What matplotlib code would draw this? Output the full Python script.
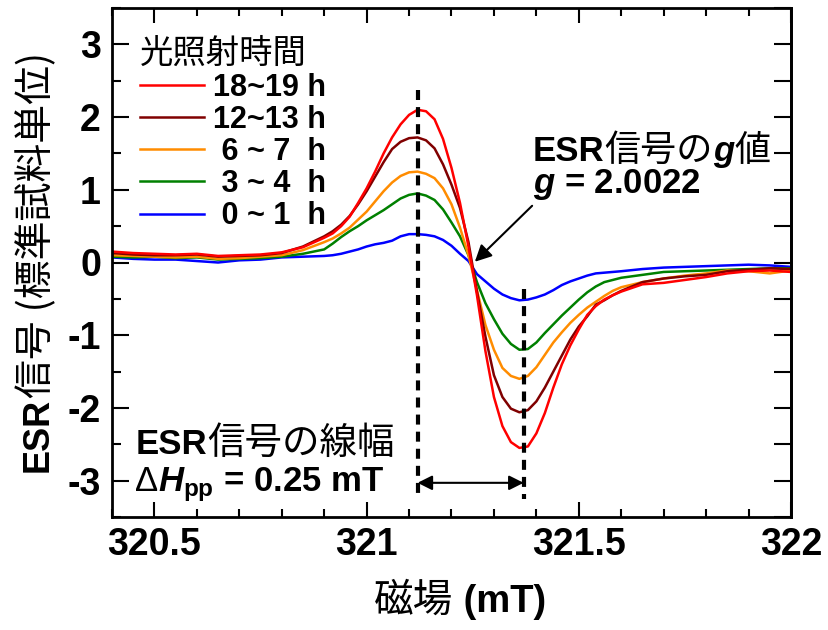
import matplotlib
matplotlib.use('Agg')
import matplotlib.pyplot as plt
import matplotlib.transforms as mtransforms
import numpy as np

plt.rcParams['axes.unicode_minus'] = False
plt.rcParams['mathtext.fontset'] = 'custom'
plt.rcParams['mathtext.rm'] = 'Liberation Sans:bold'
plt.rcParams['mathtext.it'] = 'Liberation Sans:italic:bold'
plt.rcParams['mathtext.bf'] = 'Liberation Sans:bold'

LATIN = 'Liberation Sans'
CJK = 'Noto Sans CJK JP'

# magnetic field (mT)
field = [320.4, 320.45, 320.5, 320.55, 320.6, 320.65, 320.7, 320.75, 320.8, 320.85,
         320.90, 320.92, 320.94, 320.96, 320.98, 321.00, 321.02, 321.04, 321.06, 321.08,
         321.10, 321.12, 321.14, 321.16, 321.18, 321.20, 321.22, 321.24, 321.26, 321.28,
         321.30, 321.32, 321.34, 321.36, 321.38, 321.40, 321.42, 321.44, 321.46, 321.48,
         321.50, 321.52, 321.54, 321.56, 321.58, 321.60,
         321.65, 321.7, 321.75, 321.8, 321.85, 321.9, 321.95, 322.0]

# ESR signal, one list per irradiation time
sig_18_19 = [0.15, 0.13, 0.12, 0.11, 0.12, 0.09, 0.10, 0.11, 0.14, 0.21,
             0.34, 0.40, 0.50, 0.63, 0.82, 1.02, 1.25, 1.50, 1.72, 1.90,
             2.03, 2.10, 2.08, 1.97, 1.70, 1.30, 0.82, 0.22, -0.45, -1.22,
             -1.85, -2.25, -2.47, -2.55, -2.53, -2.35, -2.07, -1.72, -1.40, -1.14,
             -0.92, -0.72, -0.60, -0.51, -0.45, -0.40,
             -0.30, -0.28, -0.24, -0.20, -0.15, -0.12, -0.11, -0.13]
sig_12_13 = [0.13, 0.11, 0.10, 0.10, 0.11, 0.08, 0.09, 0.10, 0.13, 0.22,
             0.36, 0.43, 0.52, 0.64, 0.80, 0.98, 1.18, 1.38, 1.56, 1.66,
             1.71, 1.72, 1.68, 1.57, 1.35, 1.07, 0.75, 0.28, -0.40, -1.02,
             -1.55, -1.85, -2.01, -2.06, -2.03, -1.91, -1.72, -1.50, -1.28, -1.06,
             -0.88, -0.74, -0.58, -0.52, -0.45, -0.39,
             -0.27, -0.22, -0.19, -0.17, -0.12, -0.10, -0.08, -0.09]
sig_6_7 = [0.10, 0.09, 0.08, 0.07, 0.08, 0.05, 0.06, 0.08, 0.10, 0.17,
           0.28, 0.33, 0.40, 0.48, 0.59, 0.70, 0.84, 0.98, 1.10, 1.19,
           1.24, 1.25, 1.22, 1.16, 1.02, 0.80, 0.48, 0.10, -0.38, -0.86,
           -1.20, -1.45, -1.56, -1.60, -1.56, -1.44, -1.27, -1.10, -0.96, -0.83,
           -0.72, -0.62, -0.54, -0.46, -0.39, -0.34,
           -0.27, -0.22, -0.18, -0.15, -0.11, -0.12, -0.15, -0.11]
sig_3_4 = [0.08, 0.07, 0.08, 0.06, 0.07, 0.04, 0.05, 0.06, 0.08, 0.12,
           0.18, 0.26, 0.35, 0.43, 0.50, 0.58, 0.65, 0.72, 0.80, 0.88,
           0.93, 0.95, 0.92, 0.86, 0.73, 0.55, 0.36, 0.10, -0.27, -0.56,
           -0.78, -0.98, -1.12, -1.20, -1.19, -1.10, -0.97, -0.85, -0.73, -0.62,
           -0.51, -0.41, -0.33, -0.27, -0.24, -0.21,
           -0.17, -0.13, -0.12, -0.11, -0.10, -0.09, -0.08, -0.08]
sig_0_1 = [0.07, 0.05, 0.04, 0.04, 0.02, 0.00, 0.03, 0.04, 0.07, 0.08,
           0.09, 0.10, 0.12, 0.15, 0.18, 0.22, 0.25, 0.27, 0.30, 0.36,
           0.39, 0.39, 0.38, 0.36, 0.31, 0.23, 0.12, 0.02, -0.16, -0.26,
           -0.36, -0.44, -0.49, -0.52, -0.51, -0.48, -0.44, -0.38, -0.31, -0.26,
           -0.22, -0.18, -0.15, -0.14, -0.13, -0.12,
           -0.09, -0.07, -0.06, -0.05, -0.04, -0.03, -0.04, -0.06]

series = [sig_0_1, sig_3_4, sig_6_7, sig_12_13, sig_18_19]
labels = [' 0 ~ 1  h', ' 3 ~ 4  h', ' 6 ~ 7  h', '12~13 h', '18~19 h']
colors = ['#0000ff', '#008000', '#ff8c00', '#800000', '#ff0000']

xticks = [320.5, 321, 321.5, 322]
xticklabels = ['320.5', '321', '321.5', '322']
yticks = [-3, -2, -1, 0, 1, 2, 3]
yticklabels = ['-3', '-2', '-1', '0', '1', '2', '3']

PEAK_FIELD = 321.12
TROUGH_FIELD = 321.37

fig = plt.figure(figsize=(8.29, 6.3), dpi=100)
ax = fig.add_axes([112 / 829, 113 / 630, 679 / 829, 509 / 630])

for vals, c, lab in zip(series, colors, labels):
    ax.plot(field, vals, color=c, lw=1.8, label=lab)

ax.set_xlim(320.4, 322.0)
ax.set_ylim(-3.5, 3.5)
ax.set_xticks(xticks)
ax.set_xticklabels(xticklabels)
ax.set_xticks(np.arange(320.4, 322.01, 0.1), minor=True)
ax.set_yticks(yticks)
ax.set_yticklabels(yticklabels)
ax.set_yticks(np.arange(-3.5, 3.51, 0.5), minor=True)
for lab in ax.get_xticklabels() + ax.get_yticklabels():
    lab.set_fontfamily(LATIN)
    lab.set_fontweight('bold')
    lab.set_fontsize(27)
ax.tick_params(axis='x', which='both', direction='in', top=True, width=1.5)
ax.tick_params(axis='x', which='major', length=11, pad=7)
ax.tick_params(axis='x', which='minor', length=6)
ax.tick_params(axis='y', which='both', direction='in', right=False, width=1.5)
ax.tick_params(axis='y', which='major', length=12, pad=8)
ax.tick_params(axis='y', which='minor', length=6.5)
for sp in ax.spines.values():
    sp.set_linewidth(2)

# right axis: all ticks the same length
sec = ax.secondary_yaxis('right')
sec.set_yticks(np.arange(-3.5, 3.51, 0.5))
sec.tick_params(direction='in', length=12, width=1.5, labelright=False)
sec.spines['right'].set_linewidth(2)

ax.plot([PEAK_FIELD, PEAK_FIELD], [2.37, -3.25], color='k', lw=3, dashes=(2.4, 1.7))
ax.plot([TROUGH_FIELD, TROUGH_FIELD], [-0.36, -3.25], color='k', lw=3, dashes=(2.4, 1.7))
ax.annotate('', xy=(TROUGH_FIELD, -3.03), xytext=(PEAK_FIELD, -3.03),
            arrowprops=dict(arrowstyle='<|-|>', color='k', lw=1.5,
                            mutation_scale=22, shrinkA=0, shrinkB=0))
ax.annotate('', xy=(321.255, 0.01), xytext=(321.39, 0.78),
            arrowprops=dict(arrowstyle='-|>', color='k', lw=1.5,
                            mutation_scale=25, shrinkA=0, shrinkB=0))

handles, labs = ax.get_legend_handles_labels()
leg = ax.legend(handles[::-1], labs[::-1], loc='upper left', bbox_to_anchor=(0, 1),
                frameon=False, prop=dict(family=LATIN, weight='bold', size=22),
                title='光照射時間', title_fontproperties=dict(family=CJK, size=24),
                alignment='left', handlelength=2.1, handletextpad=0.3,
                labelspacing=0.07, borderaxespad=0.5, borderpad=0.4)

B = dict(family=LATIN, weight='bold')
R = dict(family=CJK)


def chain(pieces, x, y, base_tr, rotation=0, center=False):
    r = fig.canvas.get_renderer()
    texts = [fig.text(x, y, s, transform=base_tr, rotation=rotation,
                      rotation_mode='anchor', ha='left', va='baseline', **kw)
             for s, kw in pieces]
    lens = []
    for t in texts:
        bb = t.get_window_extent(r)
        lens.append(bb.height if rotation else bb.width)
    off = -sum(lens) / 2 if center else 0
    for t, L in zip(texts, lens):
        dx, dy = (0, off) if rotation else (off, 0)
        t.set_transform(mtransforms.offset_copy(base_tr, fig=fig, x=dx, y=dy, units='dots'))
        off += L


chain([('ESR', dict(B, size=25)), ('信号の', dict(R, size=26)),
       ('g', dict(family=LATIN, weight='bold', style='italic', size=25)),
       ('値', dict(R, size=26))], 321.392, 1.40, ax.transData)
ax.text(321.392, 0.95, '$g$ = 2.0022', family=LATIN, weight='bold', size=25,
        va='baseline', ha='left')
chain([('ESR', dict(B, size=25)), ('信号の線幅', dict(R, size=27))],
      320.455, -2.63, ax.transData)
chain([('Δ', dict(family=LATIN, size=25)),
       (r'$H_{\mathrm{pp}}$ = 0.25 mT', dict(B, size=25))],
      320.455, -3.14, ax.transData)

# axis labels
chain([('磁場', dict(R, size=28.5)), (' (mT)', dict(B, size=27.5))],
      460 / 829, 18 / 630, fig.transFigure, center=True)
chain([('ESR', dict(B, size=26)), ('信号 (標準試料単位)', dict(R, size=28))],
      48 / 829, 368 / 630, fig.transFigure, rotation=90, center=True)

fig.savefig('out.png', dpi=100)
